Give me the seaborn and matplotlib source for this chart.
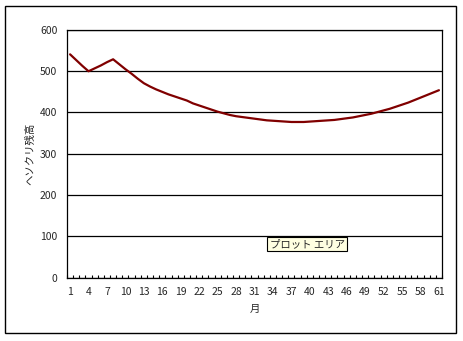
import numpy as np
import pandas as pd
import matplotlib
matplotlib.use("Agg")
import matplotlib.pyplot as plt
import seaborn as sns
from matplotlib.patches import Rectangle

# months 1..61 and balance
months = list(range(1, 62))
balance = [541, 527, 513, 500, 507, 514, 522, 529, 517, 505,
           494, 482, 471, 463, 456, 450, 444, 439, 434, 429,
           422, 417, 412, 407, 402, 398, 394, 391, 389, 387,
           385, 383, 381, 380, 379, 378, 377, 377, 377, 378,
           379, 380, 381, 382, 384, 386, 388, 391, 394, 397,
           401, 405, 409, 414, 419, 424, 430, 436, 442, 448, 454]
y_ticks = [0, 100, 200, 300, 400, 500, 600]
x_labels = months[::3]

df = pd.DataFrame({"month": months, "balance": balance})

sns.set_style("white")
plt.rcParams['font.family'] = ['Noto Sans CJK JP', 'DejaVu Sans']

fig = plt.figure(figsize=(4.63, 3.41), dpi=100)
ax = fig.add_axes([67/463, 1-277.5/341, 375/463, 247.5/341])

# outer chart frame
fig.patches.append(Rectangle((5/463, 1-333/341), 451/463, 327/341,
                             transform=fig.transFigure, fill=False,
                             edgecolor="black", linewidth=1.0))

sns.lineplot(data=df, x="month", y="balance", ax=ax, color="#800000", linewidth=1.6)

ax.set_xlim(0.5, 61.5)
ax.set_ylim(0, 600)
ax.set_yticks(y_ticks)
ax.set_yticklabels([str(v) for v in y_ticks], fontsize=7.5)
ax.set_xticks(x_labels)
ax.set_xticklabels([str(v) for v in x_labels], fontsize=7.5)
ax.tick_params(axis="x", which="major", length=0, pad=7)
ax.tick_params(axis="y", which="major", length=0, pad=7)
ax.set_xticks(np.arange(0.5, 62, 1), minor=True)
ax.tick_params(axis="x", which="minor", bottom=True, direction="in",
               length=2.5, width=0.8, color="black")

ax.grid(axis="y", color="black", linewidth=0.9)
ax.set_axisbelow(True)
for s in ax.spines.values():
    s.set_visible(True)
    s.set_color("black")
    s.set_linewidth(0.9)

ax.set_xlabel("月", fontsize=7.5, labelpad=5)
ax.set_ylabel("ヘソクリ残高", fontsize=7.5, labelpad=3)

# tooltip-like box
ax.text(0.54, 0.122, "プロット エリア", transform=ax.transAxes, fontsize=7.5,
        bbox=dict(boxstyle="square,pad=0.2", facecolor="#FFFFE1", edgecolor="black", linewidth=0.8))

fig.savefig("out.png", dpi=100)
